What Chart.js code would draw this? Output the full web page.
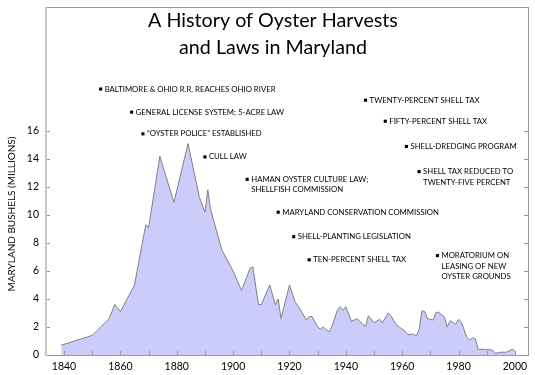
<!DOCTYPE html>
<html>
<head>
<meta charset="utf-8">
<script src="https://cdn.jsdelivr.net/npm/chart.js@4"></script>
<style>
  html, body { margin: 0; padding: 0; background: #fff; }
  #wrap { width: 535px; height: 375px; }
</style>
</head>
<body>
<div id="wrap"><canvas id="chart" width="535" height="375"></canvas></div>
<script>
// harvest data (millions of bushels)
const years = [1839, 1850, 1856, 1858, 1860, 1865, 1869, 1870, 1874, 1879, 1884, 1888, 1890, 1891, 1892,
  1896, 1900, 1903, 1906, 1907, 1909, 1910, 1913, 1915, 1916, 1917, 1920, 1922, 1924, 1926, 1927, 1928,
  1930, 1931, 1932, 1934, 1935, 1937, 1938, 1939, 1940, 1942, 1944, 1946, 1947, 1948, 1950, 1952, 1953,
  1955, 1956, 1958, 1959, 1961, 1962, 1964, 1965, 1966, 1967, 1968, 1969, 1970, 1971, 1972, 1973, 1975,
  1976, 1977, 1979, 1980, 1981, 1983, 1984, 1985, 1986, 1987, 1990, 1992, 1993, 1995, 1997, 1999, 2000];
const bushels = [0.7, 1.4, 2.6, 3.6, 3.1, 5.0, 9.3, 9.1, 14.2, 10.9, 15.1, 11.3, 10.2, 11.8, 10.4,
  7.5, 6.0, 4.6, 6.2, 6.3, 3.6, 3.6, 5.0, 3.6, 4.0, 2.6, 5.0, 3.8, 3.2, 2.5, 2.75, 2.75,
  2.0, 1.85, 2.0, 1.65, 2.0, 3.2, 3.45, 3.2, 3.45, 2.4, 2.6, 2.2, 2.05, 2.8, 2.3, 2.55, 2.3,
  3.0, 2.8, 2.15, 2.0, 1.7, 1.45, 1.5, 1.35, 1.8, 3.15, 3.1, 2.6, 2.55, 2.5, 3.05, 3.05, 2.7,
  2.0, 2.45, 2.2, 2.55, 2.35, 1.25, 1.05, 1.25, 1.15, 0.4, 0.4, 0.35, 0.12, 0.2, 0.2, 0.4, 0.3];

// laws and events, placed at their year; level is just the label's height on the chart
const lawYears = [1853, 1864, 1868, 1890, 1905, 1916, 1921.5, 1927, 1947, 1954, 1961.5, 1966, 1972.5];
const lawLevels = [19.0, 17.35, 15.8, 14.15, 12.55, 10.2, 8.45, 6.8, 18.2, 16.7, 14.9, 13.1, 7.1];
const lawLabels = [
  ['BALTIMORE & OHIO R.R. REACHES OHIO RIVER'],
  ['GENERAL LICENSE SYSTEM; 5-ACRE LAW'],
  ['\u201COYSTER POLICE\u201D ESTABLISHED'],
  ['CULL LAW'],
  ['HAMAN OYSTER CULTURE LAW;', 'SHELLFISH COMMISSION'],
  ['MARYLAND CONSERVATION COMMISSION'],
  ['SHELL-PLANTING LEGISLATION'],
  ['TEN-PERCENT SHELL TAX'],
  ['TWENTY-PERCENT SHELL TAX'],
  ['FIFTY-PERCENT SHELL TAX'],
  ['SHELL-DREDGING PROGRAM'],
  ['SHELL TAX REDUCED TO', 'TWENTY-FIVE PERCENT'],
  ['MORATORIUM ON', 'LEASING OF NEW', 'OYSTER GROUNDS']
];

const xTicks = [1840, 1860, 1880, 1900, 1920, 1940, 1960, 1980, 2000];
const yTicks = [0, 2, 4, 6, 8, 10, 12, 14, 16];

const FONT = 'Lato, "DejaVu Sans", sans-serif';

// font size that makes text about `w` px wide (the original face is narrower than Lato)
function fitFont(ctx, text, w, base) {
  ctx.font = base + 'px ' + FONT;
  return Math.min(base, base * w / ctx.measureText(text).width);
}

// frame, inward tick marks, title, axis title, event labels
const decor = {
  id: 'decor',
  afterDraw(chart) {
    const ctx = chart.ctx;
    const a = chart.chartArea;
    const xs = chart.scales.x, ys = chart.scales.y;
    const L = Math.round(a.left), R = Math.round(a.right), T = Math.round(a.top), B = Math.round(a.bottom);
    ctx.save();

    // frame
    ctx.fillStyle = '#999';
    ctx.fillRect(L, T, R - L, 1);
    ctx.fillRect(R - 1, T, 1, B - T + 1);
    ctx.fillRect(L, B, R - L, 1);
    ctx.fillStyle = '#c8c8c8';
    ctx.fillRect(L - 1, T, 2, B - T + 1);

    // inward ticks
    ctx.fillStyle = '#999';
    yTicks.forEach(v => {
      const y = Math.round(ys.getPixelForValue(v));
      ctx.fillRect(L + 1, y, 3, 1);
      ctx.fillRect(R - 5, y, 4, 1);
    });
    for (let yr = 1840; yr <= 2000; yr += 10) {
      const x = Math.round(xs.getPixelForValue(yr));
      ctx.fillRect(x, B - 4, 1, 4);
    }

    // title
    ctx.fillStyle = '#000';
    ctx.textAlign = 'center';
    ctx.textBaseline = 'middle';
    const ts = fitFont(ctx, 'A History of Oyster Harvests', 250, 22);
    ctx.font = ts + 'px ' + FONT;
    ctx.fillText('A History of Oyster Harvests', 273, 21);
    ctx.fillText('and Laws in Maryland', 273, 48);

    // y axis title
    ctx.save();
    ctx.translate(12, 214);
    ctx.rotate(-Math.PI / 2);
    ctx.font = fitFont(ctx, 'MARYLAND BUSHELS (MILLIONS)', 155, 10) + 'px ' + FONT;
    ctx.fillText('MARYLAND BUSHELS (MILLIONS)', 0, 0);
    ctx.restore();

    // event labels
    ctx.textAlign = 'left';
    ctx.font = fitFont(ctx, lawLabels[0][0], 171, 9) + 'px ' + FONT;
    lawLabels.forEach((lines, i) => {
      const x = xs.getPixelForValue(lawYears[i]);
      const y = ys.getPixelForValue(lawLevels[i]);
      lines.forEach((t, j) => ctx.fillText(t, x + 4, y + j * 10.5));
    });
    ctx.restore();
  }
};

new Chart(document.getElementById('chart'), {
  type: 'line',
  data: {
    datasets: [
      {
        label: 'Harvest',
        data: years.map((yr, i) => ({ x: yr, y: bushels[i] })),
        borderColor: '#808080',
        borderWidth: 1,
        backgroundColor: 'rgb(204, 204, 250)',
        fill: 'origin',
        tension: 0,
        pointRadius: 0
      },
      {
        type: 'scatter',
        label: 'Laws',
        data: lawYears.map((yr, i) => ({ x: yr, y: lawLevels[i] })),
        pointStyle: 'rect',
        pointRadius: 2.2,
        backgroundColor: '#000',
        borderColor: '#000',
        borderWidth: 0
      }
    ]
  },
  options: {
    responsive: false,
    animation: false,
    layout: { padding: { top: 7, right: 6, left: 0, bottom: 0 } },
    plugins: { legend: { display: false }, tooltip: { enabled: false }, title: { display: false } },
    scales: {
      x: {
        type: 'linear',
        min: 1833.6,
        max: 2005,
        grid: { display: false, drawTicks: false },
        border: { display: false },
        afterBuildTicks: s => { s.ticks = xTicks.map(v => ({ value: v })); },
        afterFit: s => { s.height = 20; s.paddingLeft = 0; s.paddingRight = 0; },
        ticks: { color: '#000', font: { family: FONT, size: 10.5 }, padding: 5, maxRotation: 0, autoSkip: false, callback: v => String(v) }
      },
      y: {
        min: 0,
        max: 24.86,
        grid: { display: false, drawTicks: false },
        border: { display: false },
        afterBuildTicks: s => { s.ticks = yTicks.map(v => ({ value: v })); },
        afterFit: s => { s.width = 46; s.paddingTop = 0; s.paddingBottom = 0; },
        ticks: { color: '#000', font: { family: FONT, size: 10.5 }, padding: 7 }
      }
    }
  },
  plugins: [decor]
});
</script>
</body>
</html>
